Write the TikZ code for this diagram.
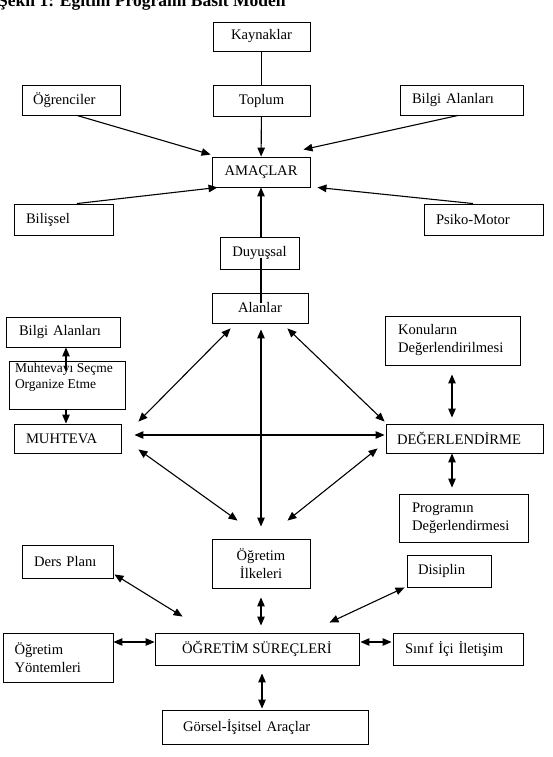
\documentclass[tikz,border=0pt]{standalone}
\usepackage{fontspec}
\setmainfont{Liberation Serif}
\usetikzlibrary{arrows.meta}
\tikzset{
  bx/.style={draw, line width=0.9pt, inner ysep=0pt, font=\fontsize{14.6}{18}\selectfont},
  lb/.style={bx, align=left},
  cb/.style={bx, align=center, inner xsep=0pt},
  con/.style={line width=1.1pt},
  ar/.style={con, -{Triangle[length=9pt,width=7.5pt]}},
  dar/.style={con, {Triangle[length=9pt,width=7.5pt]}-{Triangle[length=9pt,width=7.5pt]}},
}
\begin{document}
\begin{tikzpicture}[x=1pt,y=-1pt]
\useasboundingbox (0,0) rectangle (552,757);
\node[anchor=base west, inner sep=0pt, font=\bfseries\fontsize{17.5}{20}\selectfont] (title) at (-2,7) {Şekil 1: Eğitim Programı Basit Modeli};

\node[cb, minimum width=97pt, minimum height=29pt] (kay) at (261.5,36.5) {Kaynaklar};
\node[cb, minimum width=97pt, minimum height=31pt] (top) at (261.5,100.5) {Toplum};
\node[lb, minimum width=98pt, minimum height=30pt, text width=76pt, inner xsep=11pt] (ogr) at (71,100) {Öğrenciler};
\node[lb, minimum width=123pt, minimum height=30pt, text width=99pt, inner xsep=12pt] (bil1) at (461.5,100) {Bilgi Alanları};
\node[cb, minimum width=98pt, minimum height=30pt] (amac) at (261,172) {AMAÇLAR};
\node[lb, minimum width=99pt, minimum height=31pt, text width=75pt, inner xsep=12pt] (bls) at (63.5,219.5) {Bilişsel};
\node[lb, minimum width=119pt, minimum height=31pt, text width=95pt, inner xsep=12pt] (psi) at (483.5,219.5) {Psiko-Motor};
\node[cb, minimum width=79pt, minimum height=32pt] (duy) at (259.5,253) {Duyuşsal};
\node[cb, minimum width=96pt, minimum height=30pt] (aln) at (260,308) {Alanlar};
\node[lb, minimum width=114pt, minimum height=30pt, text width=88pt, inner xsep=13pt] (bil2) at (63,332) {Bilgi Alanları};
\node[bx, inner xsep=6pt, inner ysep=2pt, font=\fontsize{13.5}{16}\selectfont] (muh) at (67,385) {\parbox[c][44pt][t]{104pt}{Muhtevayı Seçme\\Organize Etme}};
\node[lb, minimum width=107pt, minimum height=29pt, text width=83pt, inner xsep=12pt] (mht) at (67.5,438.5) {MUHTEVA};
\node[lb, minimum width=135pt, minimum height=49pt, text width=109pt, inner xsep=13pt] (kon) at (452.5,340.5) {Konuların\\Değerlendirilmesi};
\node[lb, minimum width=157pt, minimum height=29pt, text width=135pt, inner xsep=11pt] (deg) at (464.5,438.5) {DEĞERLENDİRME};
\node[lb, minimum width=129pt, minimum height=48pt, text width=103pt, inner xsep=13pt] (prg) at (463.5,518) {Programın\\Değerlendirmesi};
\node[cb, minimum width=98pt, minimum height=49pt] (ilk) at (261,563.5) {Öğretim\\İlkeleri};
\node[lb, minimum width=91pt, minimum height=33pt, text width=67pt, inner xsep=12pt] (ders) at (67.5,561.5) {Ders Planı};
\node[lb, minimum width=84pt, minimum height=32pt, text width=62pt, inner xsep=11pt] (dis) at (449,571) {Disiplin};
\node[lb, minimum width=109.5pt, minimum height=49pt, text width=87.5pt, inner xsep=11pt] (yon) at (58.25,657.5) {Öğretim\\Yöntemleri};
\node[cb, minimum width=204pt, minimum height=32pt] (sur) at (257,649) {ÖĞRETİM SÜREÇLERİ};
\node[lb, minimum width=130pt, minimum height=32pt, text width=106pt, inner xsep=12pt] (sin) at (458,649) {Sınıf İçi İletişim};
\node[lb, minimum width=206pt, minimum height=34pt, text width=164pt, inner xsep=21pt] (gor) at (265,727) {Görsel-İşitsel Araçlar};

\draw[con] (kay) -- (top);
\draw[ar] (top) -- (amac);
\draw[ar] ([xshift=6pt]ogr.south) -- ([xshift=-1pt,yshift=2pt]amac.north west);
\draw[ar] ([xshift=-3.5pt]bil1.south) -- ([xshift=-7pt,yshift=7pt]amac.north east);
\draw[ar] ([xshift=13.5pt]bls.north) -- ([xshift=6pt]amac.south west);
\draw[ar] ([xshift=-10.5pt]psi.north) -- ([xshift=7pt]amac.south east);
\draw[ar] ([xshift=1.5pt]duy.north) -- (amac.south);
\draw[con] ([xshift=1.5pt,yshift=-5pt]duy.center) -- ([xshift=1pt,yshift=5pt]aln.center);
\draw[dar] ([xshift=1pt,yshift=-6pt]aln.south) -- ([yshift=12pt]ilk.north);
\draw[dar] ([xshift=19pt,yshift=-5pt]aln.south west) -- ([xshift=17pt,yshift=2pt]mht.north east);
\draw[dar] ([xshift=-21pt,yshift=-5pt]aln.south east) -- ([xshift=-1pt,yshift=2pt]deg.north west);
\draw[dar] ([xshift=13pt,yshift=3.5pt]mht.east) -- ([xshift=-1pt,yshift=3.5pt]deg.west);
\draw[dar] ([xshift=17pt,yshift=4pt]mht.south east) -- ([xshift=26pt,yshift=18pt]ilk.north west);
\draw[dar] ([xshift=-8pt,yshift=5pt]deg.south west) -- ([xshift=-23pt,yshift=18pt]ilk.north east);
\draw[dar] ([xshift=-0.5pt,yshift=-9pt]kon.south) -- ([xshift=-12.5pt,yshift=6pt]deg.north);
\draw[dar] ([xshift=-12.5pt]deg.south) -- ([xshift=-11.5pt,yshift=6pt]prg.north);
\draw[ar] ([xshift=-1pt,yshift=-9pt]muh.north) -- ([xshift=3pt]bil2.south);
\draw[ar] ([xshift=-1pt]muh.south) -- ([xshift=-1.5pt]mht.north);
\draw[dar] ([yshift=-9pt]ilk.south) -- ([xshift=4pt,yshift=7pt]sur.north);
\draw[dar] ([xshift=1pt,yshift=4pt]ders.south east) -- ([xshift=28pt,yshift=16pt]sur.north west);
\draw[dar] ([xshift=-2pt]dis.south west) -- ([xshift=-30pt,yshift=10pt]sur.north east);
\draw[dar] ([yshift=15.5pt]yon.east) -- ([yshift=7pt]sur.west);
\draw[dar] ([xshift=1pt,yshift=7pt]sur.east) -- ([xshift=-1pt,yshift=7pt]sin.west);
\draw[dar] ([xshift=5pt,yshift=-8pt]sur.south) -- ([xshift=-3pt,yshift=1pt]gor.north);
\end{tikzpicture}
\end{document}
